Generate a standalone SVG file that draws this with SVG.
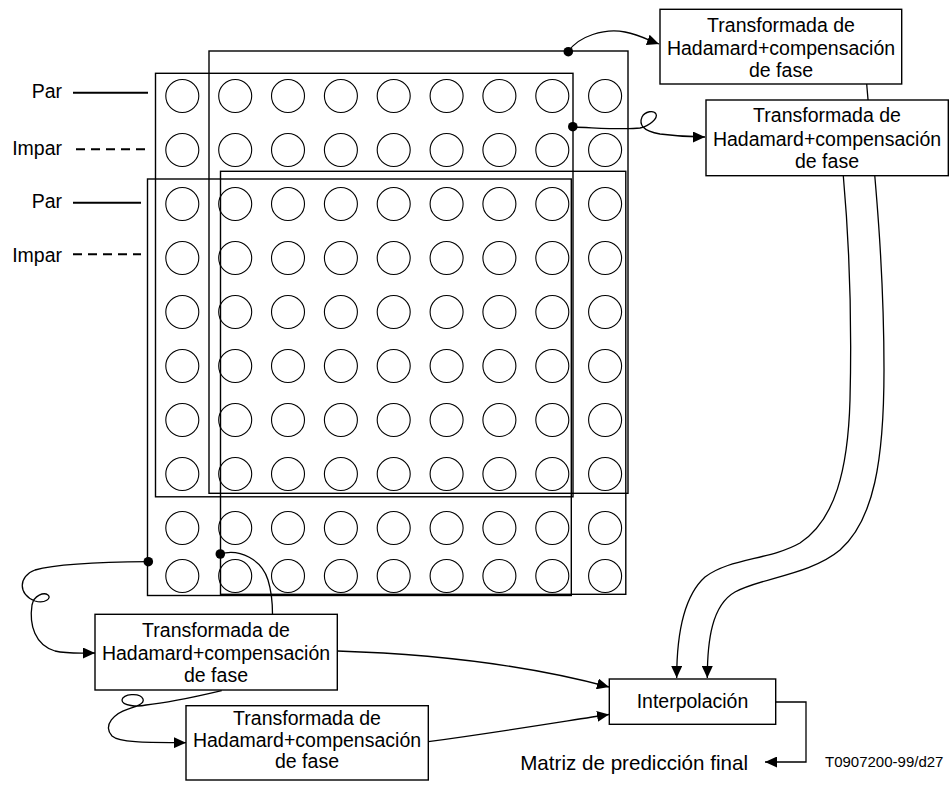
<svg xmlns="http://www.w3.org/2000/svg" width="949" height="785" viewBox="0 0 949 785">
<style>
.t{font-family:"Liberation Sans",Arial,sans-serif;font-size:19.5px;fill:#000}
.c{text-anchor:middle}
.frame{fill:none;stroke:#000;stroke-width:1.4}
.box{fill:#fff;stroke:#000;stroke-width:1.4}
.dot{fill:none;stroke:#000;stroke-width:1.1}
.con{fill:none;stroke:#000;stroke-width:1.3}
.lab{stroke:#000;stroke-width:2}
.dash{stroke:#000;stroke-width:2;stroke-dasharray:9,6}
</style>
<defs>
<marker id="ah" markerUnits="userSpaceOnUse" markerWidth="12" markerHeight="11" refX="12" refY="5.5" orient="auto">
<path d="M0,0 L12,5.5 L0,11 z" fill="#000"/>
</marker>
</defs>
<rect width="949" height="785" fill="#fff"/>

<g id="labels">
<text class="t" x="62" y="98" text-anchor="end">Par</text>
<line class="lab" x1="73" y1="92.7" x2="148" y2="92.7"/>
<text class="t" x="62" y="155" text-anchor="end">Impar</text>
<line class="dash" x1="76" y1="149.3" x2="148" y2="149.3"/>
<text class="t" x="62" y="208.3" text-anchor="end">Par</text>
<line class="lab" x1="73" y1="202.7" x2="141" y2="202.7"/>
<text class="t" x="62" y="261.7" text-anchor="end">Impar</text>
<line class="dash" x1="73" y1="254.3" x2="141" y2="254.3"/>
</g>

<g id="grid">
<g class="dot">
<circle cx="182.3" cy="96" r="16.5"/><circle cx="235.2" cy="96" r="16.5"/><circle cx="288" cy="96" r="16.5"/><circle cx="340.9" cy="96" r="16.5"/><circle cx="393.7" cy="96" r="16.5"/><circle cx="446.6" cy="96" r="16.5"/><circle cx="499.4" cy="96" r="16.5"/><circle cx="552.3" cy="96" r="16.5"/><circle cx="605.1" cy="96" r="16.5"/>
<circle cx="182.3" cy="150" r="16.5"/><circle cx="235.2" cy="150" r="16.5"/><circle cx="288" cy="150" r="16.5"/><circle cx="340.9" cy="150" r="16.5"/><circle cx="393.7" cy="150" r="16.5"/><circle cx="446.6" cy="150" r="16.5"/><circle cx="499.4" cy="150" r="16.5"/><circle cx="552.3" cy="150" r="16.5"/><circle cx="605.1" cy="150" r="16.5"/>
<circle cx="182.3" cy="204" r="16.5"/><circle cx="235.2" cy="204" r="16.5"/><circle cx="288" cy="204" r="16.5"/><circle cx="340.9" cy="204" r="16.5"/><circle cx="393.7" cy="204" r="16.5"/><circle cx="446.6" cy="204" r="16.5"/><circle cx="499.4" cy="204" r="16.5"/><circle cx="552.3" cy="204" r="16.5"/><circle cx="605.1" cy="204" r="16.5"/>
<circle cx="182.3" cy="258" r="16.5"/><circle cx="235.2" cy="258" r="16.5"/><circle cx="288" cy="258" r="16.5"/><circle cx="340.9" cy="258" r="16.5"/><circle cx="393.7" cy="258" r="16.5"/><circle cx="446.6" cy="258" r="16.5"/><circle cx="499.4" cy="258" r="16.5"/><circle cx="552.3" cy="258" r="16.5"/><circle cx="605.1" cy="258" r="16.5"/>
<circle cx="182.3" cy="312" r="16.5"/><circle cx="235.2" cy="312" r="16.5"/><circle cx="288" cy="312" r="16.5"/><circle cx="340.9" cy="312" r="16.5"/><circle cx="393.7" cy="312" r="16.5"/><circle cx="446.6" cy="312" r="16.5"/><circle cx="499.4" cy="312" r="16.5"/><circle cx="552.3" cy="312" r="16.5"/><circle cx="605.1" cy="312" r="16.5"/>
<circle cx="182.3" cy="366" r="16.5"/><circle cx="235.2" cy="366" r="16.5"/><circle cx="288" cy="366" r="16.5"/><circle cx="340.9" cy="366" r="16.5"/><circle cx="393.7" cy="366" r="16.5"/><circle cx="446.6" cy="366" r="16.5"/><circle cx="499.4" cy="366" r="16.5"/><circle cx="552.3" cy="366" r="16.5"/><circle cx="605.1" cy="366" r="16.5"/>
<circle cx="182.3" cy="420" r="16.5"/><circle cx="235.2" cy="420" r="16.5"/><circle cx="288" cy="420" r="16.5"/><circle cx="340.9" cy="420" r="16.5"/><circle cx="393.7" cy="420" r="16.5"/><circle cx="446.6" cy="420" r="16.5"/><circle cx="499.4" cy="420" r="16.5"/><circle cx="552.3" cy="420" r="16.5"/><circle cx="605.1" cy="420" r="16.5"/>
<circle cx="182.3" cy="474" r="16.5"/><circle cx="235.2" cy="474" r="16.5"/><circle cx="288" cy="474" r="16.5"/><circle cx="340.9" cy="474" r="16.5"/><circle cx="393.7" cy="474" r="16.5"/><circle cx="446.6" cy="474" r="16.5"/><circle cx="499.4" cy="474" r="16.5"/><circle cx="552.3" cy="474" r="16.5"/><circle cx="605.1" cy="474" r="16.5"/>
<circle cx="182.3" cy="528" r="16.5"/><circle cx="235.2" cy="528" r="16.5"/><circle cx="288" cy="528" r="16.5"/><circle cx="340.9" cy="528" r="16.5"/><circle cx="393.7" cy="528" r="16.5"/><circle cx="446.6" cy="528" r="16.5"/><circle cx="499.4" cy="528" r="16.5"/><circle cx="552.3" cy="528" r="16.5"/><circle cx="605.1" cy="528" r="16.5"/>
<circle cx="182.3" cy="576" r="16.5"/><circle cx="235.2" cy="576" r="16.5"/><circle cx="288" cy="576" r="16.5"/><circle cx="340.9" cy="576" r="16.5"/><circle cx="393.7" cy="576" r="16.5"/><circle cx="446.6" cy="576" r="16.5"/><circle cx="499.4" cy="576" r="16.5"/><circle cx="552.3" cy="576" r="16.5"/><circle cx="605.1" cy="576" r="16.5"/>
</g>
<rect id="win1" class="frame" x="155.5" y="73.3" width="417.5" height="423.5"/>
<rect id="win2" class="frame" x="209" y="51" width="419" height="442.3"/>
<rect id="win3" class="frame" x="147.5" y="179" width="423.8" height="416.5"/>
<rect id="win4" class="frame" x="220.5" y="171.3" width="405.3" height="423"/>
</g>

<g id="connectors">
<path class="con" marker-end="url(#ah)" d="M568,52 C578,36 605,28 625,32 C640,35 648,40 659,44"/>
<path class="con" marker-end="url(#ah)" d="M573,127 C600,128 625,130 640,128 C650,126 658,118 656,114 C654,110 645,111 642,117 C639,124 642,131 660,134 C675,136 690,137 705,137"/>
<path class="con" marker-end="url(#ah)" d="M866.7,84 C872,150 884,250 884,370 C884,460 874,520 840,550 C810,575 760,578 735,592 C712,605 707.3,640 707.3,678"/>
<path class="con" marker-end="url(#ah)" d="M843.3,175.7 C849,240 852,320 850,400 C848,470 835,520 800,543 C770,560 730,558 705,577 C685,595 676.7,630 676.7,678"/>
<path class="con" marker-end="url(#ah)" d="M148.3,561.7 C110,562 60,563 35,570 C18,576 18,595 35,601 C45,604 52,598 48,595 C44,592 34,595 32,605 C29,625 35,645 55,651 C68,654 80,653 95,653"/>
<path class="con" d="M220,554 C240,548 262,560 268,580 C272,593 272.5,605 272.5,614.3"/>
<path class="con" marker-end="url(#ah)" d="M337.3,651 C430,654 520,663 609,687"/>
<path class="con" marker-end="url(#ah)" d="M428.3,741.7 C500,732 560,722 609,714.5"/>
<path class="con" marker-end="url(#ah)" d="M221.7,690.7 C195,697 168,703 146,705 C138,707 122,706 122,700 C122,694 140,692 143,699 C145,704 135,707 128,709 C115,713 102,725 112,736 C120,743 150,742.5 186,742.7"/>
<path class="con" marker-end="url(#ah)" d="M776,702 L806,702 L806,762 L765,762"/>
<circle cx="568.3" cy="51.7" r="4.8" fill="#000"/>
<circle cx="572.8" cy="126.7" r="4.8" fill="#000"/>
<circle cx="148.3" cy="561.7" r="4.8" fill="#000"/>
<circle cx="220.3" cy="554" r="4.8" fill="#000"/>
</g>

<g id="box1">
<rect class="box" x="660" y="9.3" width="241.7" height="74.7"/>
<text class="t c" x="781" y="31.7">Transformada de</text>
<text class="t c" x="781" y="55">Hadamard+compensación</text>
<text class="t c" x="781" y="77.3">de fase</text>
</g>
<g id="box2">
<rect class="box" x="706" y="100" width="242.3" height="75.7"/>
<text class="t c" x="827" y="122.3">Transformada de</text>
<text class="t c" x="827" y="145.7">Hadamard+compensación</text>
<text class="t c" x="827" y="167.7">de fase</text>
</g>
<g id="box3">
<rect class="box" x="95" y="614.3" width="242.3" height="75.7"/>
<text class="t c" x="216" y="637.3">Transformada de</text>
<text class="t c" x="216" y="660">Hadamard+compensación</text>
<text class="t c" x="216" y="682.3">de fase</text>
</g>
<g id="box4">
<rect class="box" x="186" y="705.7" width="242.3" height="74.3"/>
<text class="t c" x="307" y="725">Transformada de</text>
<text class="t c" x="307" y="746.7">Hadamard+compensación</text>
<text class="t c" x="307" y="768.3">de fase</text>
</g>
<g id="interp">
<rect class="box" x="609.3" y="679" width="166.4" height="45.3"/>
<text class="t c" x="692.5" y="708.3">Interpolación</text>
</g>
<g id="output">
<text class="t" x="748" y="770" text-anchor="end" style="font-size:20.6px">Matriz de predicción final</text>
<text class="t" x="825" y="767" style="font-size:15px">T0907200-99/d27</text>
</g>
</svg>
